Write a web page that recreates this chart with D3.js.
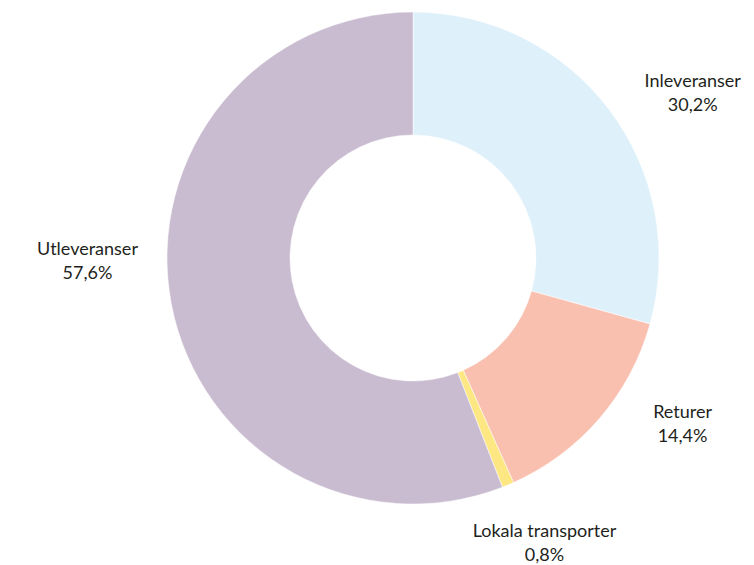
<!DOCTYPE html>
<html>
<head>
<meta charset="utf-8">
<script src="https://cdn.jsdelivr.net/npm/d3@7"></script>
<style>
  body { margin: 0; background: #fff; }
  text { font-family: Lato, "Open Sans", sans-serif; font-size: 18px; fill: #231f20; }
</style>
</head>
<body>
<div id="chart"></div>
<script>
const categories = ["Inleveranser", "Returer", "Lokala transporter", "Utleveranser"];
const values = [30.2, 14.4, 0.8, 57.6];
const valueLabels = ["30,2%", "14,4%", "0,8%", "57,6%"];
const colors = ["#def0fa", "#f9c0b0", "#fde782", "#c9bcd1"];

// label placement around the ring (angle in degrees from top, distance from centre)
const labelPos = [
  { a: 59.4, r: 325 },
  { a: 121.6, r: 316.5 },
  { a: 155.2, r: 313.5 },
  { a: 269.5, r: 325.5 }
];

var width = 754,
  height = 565,
  cx = 413,
  cy = 258,
  outerR = 246,
  innerR = 123;

var svg = d3.select("#chart") // create the SVG
  .append("svg")
  .attr("width", width)
  .attr("height", height)
  .append("g")
  .attr("transform", `translate(${cx},${cy})`);

const data = categories.map((c, i) => ({ key: c, value: values[i], label: valueLabels[i], color: colors[i] }));

const pie = d3.pie()
  .sort(null)
  .value(d => d.value);

const arc = d3.arc()
  .innerRadius(innerR)
  .outerRadius(outerR);

svg.selectAll("path") // slices
  .data(pie(data))
  .enter()
  .append("path")
  .attr("d", arc)
  .attr("fill", d => d.data.color)
  .attr("stroke", "#fff")
  .attr("stroke-width", 0.5);

const labels = svg.selectAll("g.label") // labels
  .data(data)
  .enter()
  .append("g")
  .attr("class", "label")
  .attr("transform", (d, i) => {
    const a = labelPos[i].a * Math.PI / 180;
    return `translate(${Math.sin(a) * labelPos[i].r},${-Math.cos(a) * labelPos[i].r})`;
  });

labels.append("text")
  .attr("text-anchor", "middle")
  .attr("y", -6)
  .text(d => d.key);

labels.append("text")
  .attr("text-anchor", "middle")
  .attr("y", 18)
  .text(d => d.label);
</script>
</body>
</html>
